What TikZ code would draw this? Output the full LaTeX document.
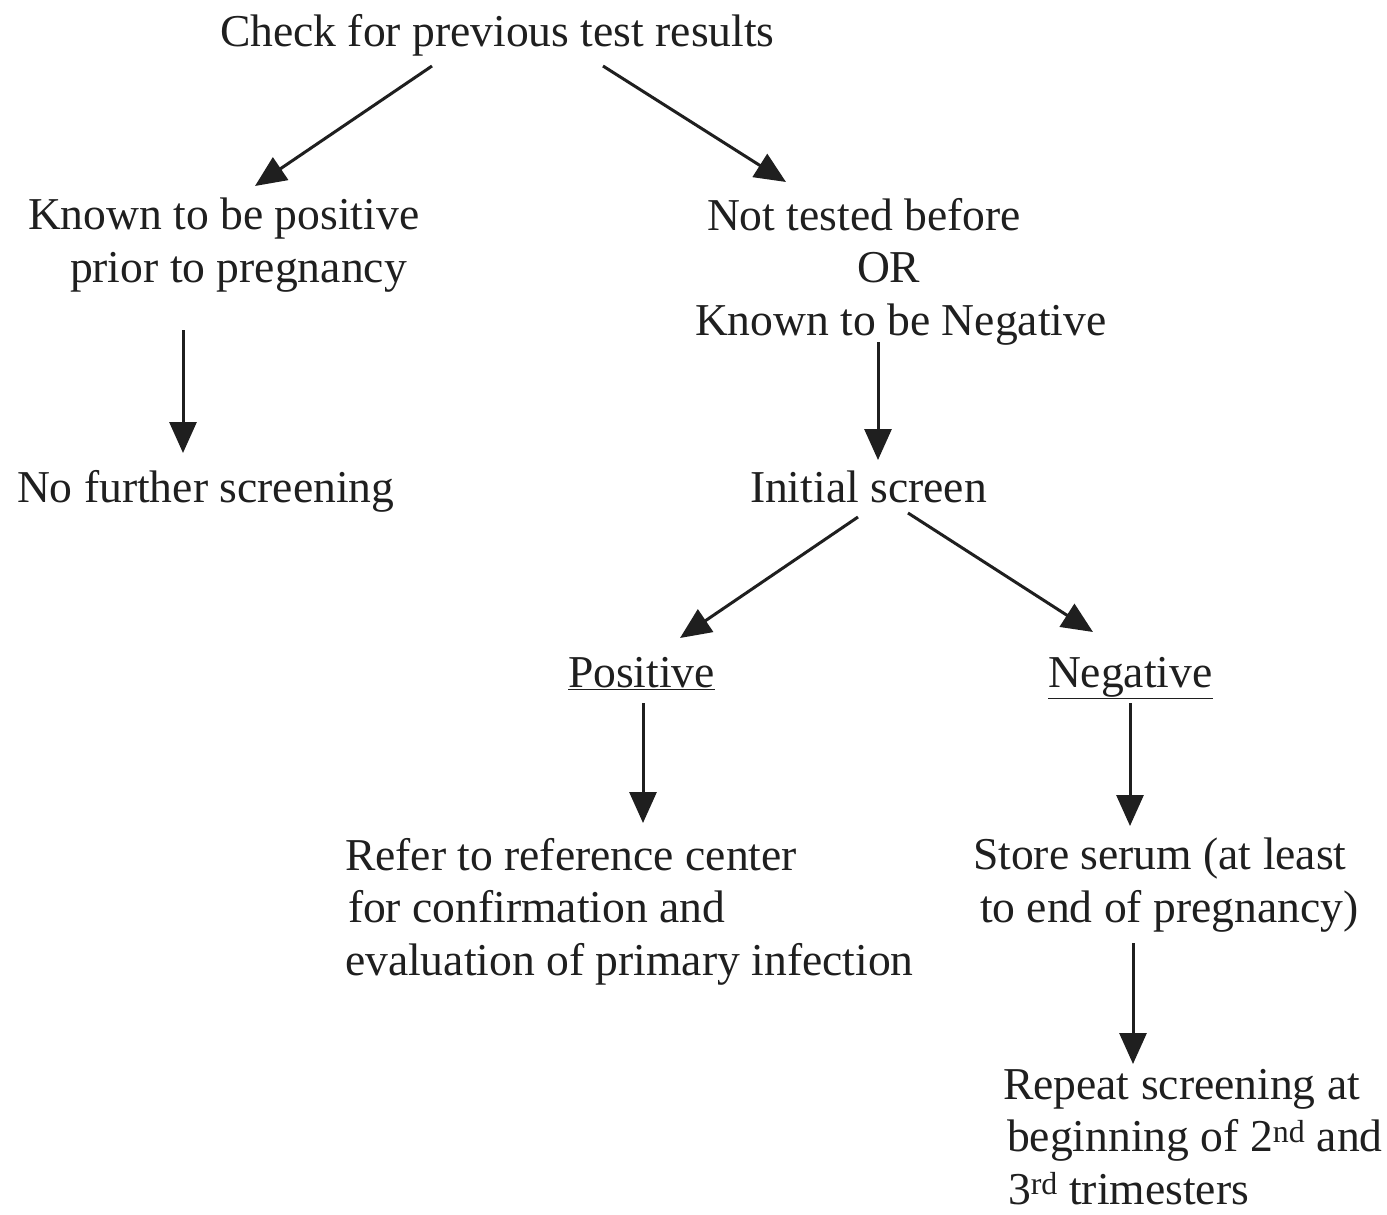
\documentclass[tikz,border=0pt]{standalone}
\usepackage{fontspec}
\setmainfont{Liberation Serif}
\usetikzlibrary{arrows.meta}
\tikzset{
  txt/.style={inner sep=0pt, outer sep=0pt, align=left, anchor=base west, font=\fontsize{45.6}{52.5}\selectfont, text=black!88},
  flow/.style={line width=3pt, draw=black!88, -{Triangle[length=31pt,width=27pt]}}
}
\begin{document}
\begin{tikzpicture}[x=1pt,y=-1pt]
\useasboundingbox[fill=white] (0,0) rectangle (1387,1215);
% text blocks (base anchor = baseline of the last line)
\node[txt] (chk) at (220,47) {Check for previous test results};
\node[txt] (kp) at (28,282) {Known to be positive\\\hspace*{42pt}prior to pregnancy};
\node[txt] (nt) at (695,335) {\hspace*{12pt}Not tested before\\\hspace*{162pt}OR\\Known to be Negative};
\node[txt] (nf) at (17,502) {No further screening};
\node[txt] (is) at (750,502) {Initial screen};
\node[txt] (pos) at (568,687) {\underline{Positive}};
\node[txt] (neg) at (1048,687) {\underline{Negative}};
\node[txt] (ref) at (345,975) {Refer to reference center\\\hspace*{3pt}for confirmation and\\evaluation of primary infection};
\node[txt] (ss) at (973,922) {Store serum (at least\\\hspace*{7pt}to end of pregnancy)};
\node[txt] (rep) at (1003,1204) {Repeat screening at\\\hspace*{4pt}beginning of 2\textsuperscript{nd} and\\\hspace*{5pt}3\textsuperscript{rd} trimesters};
% connector ends
\coordinate (c1a) at (432,66);  \coordinate (c1b) at (255,186);
\coordinate (c2a) at (603,66);  \coordinate (c2b) at (786,182);
\coordinate (c3a) at (183,330); \coordinate (c3b) at (183,453);
\coordinate (c4a) at (878,342); \coordinate (c4b) at (878,460);
\coordinate (c5a) at (858,517); \coordinate (c5b) at (680,638);
\coordinate (c6a) at (908,513); \coordinate (c6b) at (1093,632);
\coordinate (c7a) at (643,703); \coordinate (c7b) at (643,823);
\coordinate (c8a) at (1130,703); \coordinate (c8b) at (1130,826);
\coordinate (c9a) at (1133,943); \coordinate (c9b) at (1133,1064);
\draw[flow] (c1a) -- (c1b);
\draw[flow] (c2a) -- (c2b);
\draw[flow] (c3a) -- (c3b);
\draw[flow] (c4a) -- (c4b);
\draw[flow] (c5a) -- (c5b);
\draw[flow] (c6a) -- (c6b);
\draw[flow] (c7a) -- (c7b);
\draw[flow] (c8a) -- (c8b);
\draw[flow] (c9a) -- (c9b);
\end{tikzpicture}
\end{document}
